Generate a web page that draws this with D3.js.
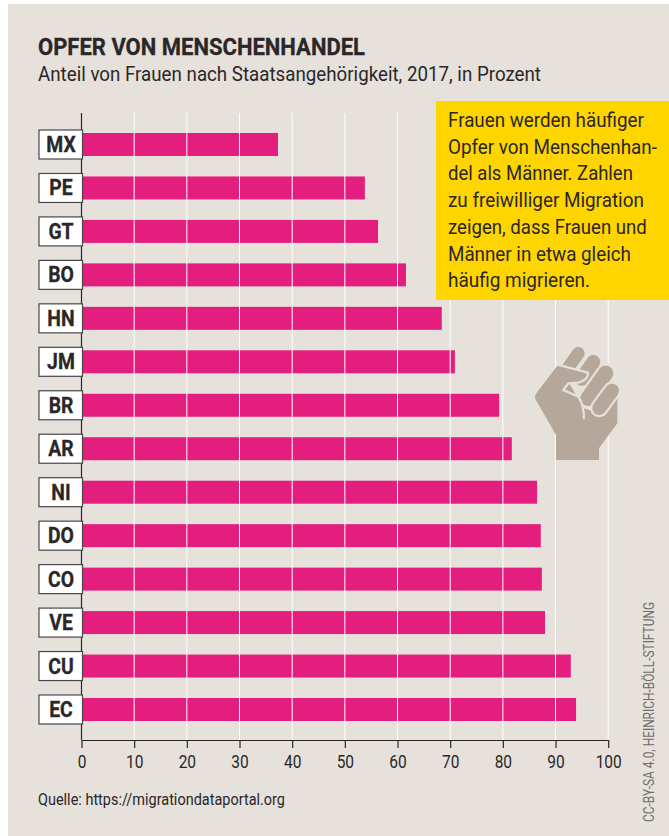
<!DOCTYPE html>
<html><head><meta charset="utf-8">
<script src="https://cdnjs.cloudflare.com/ajax/libs/d3/7.8.5/d3.min.js"></script>
<style>html,body{margin:0;padding:0;background:#fff}svg{display:block}text{font-family:Roboto,"Liberation Sans",sans-serif}</style>
</head><body><div id="c"></div>
<script>
const categories=["MX","PE","GT","BO","HN","JM","BR","AR","NI","DO","CO","VE","CU","EC"];
const values=[37.3,53.8,56.3,61.6,68.4,70.9,79.3,81.7,86.5,87.2,87.4,88,92.9,93.9];
const tickValues=[0,10,20,30,40,50,60,70,80,90,100];
const titleText="OPFER VON MENSCHENHANDEL";
const subtitleText="Anteil von Frauen nach Staatsangehörigkeit, 2017, in Prozent";
const noteLines=["Frauen werden häufiger","Opfer von Menschenhan-","del als Männer. Zahlen","zu freiwilliger Migration","zeigen, dass Frauen und","Männer in etwa gleich","häufig migrieren."];
const noteWidths=[196,209,185,196,199,183,142];
const sourceText="Quelle: https://migrationdataportal.org";
const creditText="CC-BY-SA 4.0, HEINRICH-BÖLL-STIFTUNG";

const W=669,H=836,INK="#2b2728",BG="#e6e1db",PINK="#e31e7e",YEL="#ffd500",FIST="#b5a799";
const svg=d3.select("#c").append("svg").attr("width",W).attr("height",H);
svg.append("rect").attr("x",8).attr("y",4).attr("width",W-8).attr("height",H-4).attr("fill",BG);

const x=d3.scaleLinear().domain([0,100]).range([81.5,608.2]);
const y=d3.scaleBand().domain(categories).range([133,721]).paddingInner(0.471);

function fit(sel,len){return sel.attr("textLength",len).attr("lengthAdjust","spacingAndGlyphs");}
function squeeze(sel,k){sel.each(function(){d3.select(this).attr("textLength",this.getComputedTextLength()*k).attr("lengthAdjust","spacingAndGlyphs");});}

fit(svg.append("text").attr("x",38).attr("y",55).attr("font-size",24.5).attr("font-weight",700).attr("fill",INK).attr("stroke",INK).attr("stroke-width",0.3).text(titleText),327);
fit(svg.append("text").attr("x",38).attr("y",81).attr("font-size",21).attr("fill",INK).text(subtitleText),503);

svg.append("g").selectAll("rect").data(categories).join("rect")
  .attr("x",x(0)).attr("y",d=>y(d)).attr("height",y.bandwidth())
  .attr("width",(d,i)=>x(values[i])-x(0)).attr("fill",PINK);

svg.append("g").selectAll("line").data(tickValues.slice(1)).join("line")
  .attr("x1",d=>x(d)).attr("x2",d=>x(d)).attr("y1",113).attr("y2",740)
  .attr("stroke","#fff").attr("stroke-width",1);

const ax=svg.append("g").attr("transform","translate(0,740)")
  .call(d3.axisBottom(x).tickValues(tickValues).tickSize(8).tickPadding(8).tickSizeOuter(0));
ax.select(".domain").attr("stroke",INK).attr("stroke-width",1.2);
ax.selectAll(".tick line").attr("stroke",INK).attr("stroke-width",1.2);
const tickText=ax.selectAll(".tick text").attr("font-size",18).attr("fill",INK).attr("y",28).attr("dy",0)
  .style("font-family",'Roboto,"Liberation Sans",sans-serif');
squeeze(tickText,0.86);

svg.append("line").attr("x1",x(0)).attr("x2",x(0)).attr("y1",113).attr("y2",740).attr("stroke",INK).attr("stroke-width",1.2);

const lab=svg.append("g").selectAll("g").data(categories).join("g")
  .attr("transform",d=>`translate(0,${y(d)+y.bandwidth()/2})`);
lab.append("rect").attr("x",39).attr("y",-14.5).attr("width",43.5).attr("height",29)
  .attr("fill","#fff").attr("stroke","#4a4647").attr("stroke-width",1.2);
squeeze(lab.append("text").attr("x",61).attr("y",7.5).attr("text-anchor","middle")
  .attr("font-size",21.5).attr("font-weight",700).attr("fill",INK).attr("stroke",INK).attr("stroke-width",0.3).text(d=>d),0.9);

// fist icon
const fist=svg.append("g").attr("transform","translate(510,330) scale(0.3333)");
fist.append("path").attr("fill",FIST)
  .attr("d","M145,104L78,192Q73,200 78,210L138,315V390H267V355L322,280V205L270,250L222,235Z");
const capsules=[[[205,70],[175,112],38],[[250,96],[215,146],42],[[287,130],[234,205],46],[[306,182],[268,234],42]];
capsules.forEach(c=>{
  const d=`M${c[0][0]},${c[0][1]}L${c[1][0]},${c[1][1]}`;
  fist.append("path").attr("d",d).attr("fill","none").attr("stroke",BG).attr("stroke-width",c[2]+13).attr("stroke-linecap","round");
  fist.append("path").attr("d",d).attr("fill","none").attr("stroke",FIST).attr("stroke-width",c[2]).attr("stroke-linecap","round");
});
// thumb over the finger ends, with its crease
fist.append("path").attr("fill",FIST)
  .attr("d","M145,104L234,128L232,150L205,158L175,160L160,180L205,200L222,235L222,300L138,300L78,210Q73,200 78,192Z");
fist.append("path").attr("fill","none").attr("stroke",BG).attr("stroke-width",7).attr("stroke-linejoin","round")
  .attr("d","M142,104L234,128Q236,150 205,158L175,160L160,180L205,200Q222,225 222,268");

svg.append("rect").attr("x",436).attr("y",101).attr("width",233).attr("height",199).attr("fill",YEL);
noteLines.forEach((t,i)=>{
  const n=svg.append("text").attr("font-size",20.5).attr("fill",INK).text(t);
  const k=noteWidths[i]/n.node().getComputedTextLength();
  n.attr("transform",`translate(448,${127+i*26.7}) scale(${k},1)`);
});

fit(svg.append("text").attr("x",38).attr("y",805).attr("font-size",16.5).attr("fill",INK).text(sourceText),247);
fit(svg.append("text").attr("transform","translate(654,822) rotate(-90)").attr("font-size",14.5).attr("fill","#6f6c6b").text(creditText),220);
</script></body></html>
